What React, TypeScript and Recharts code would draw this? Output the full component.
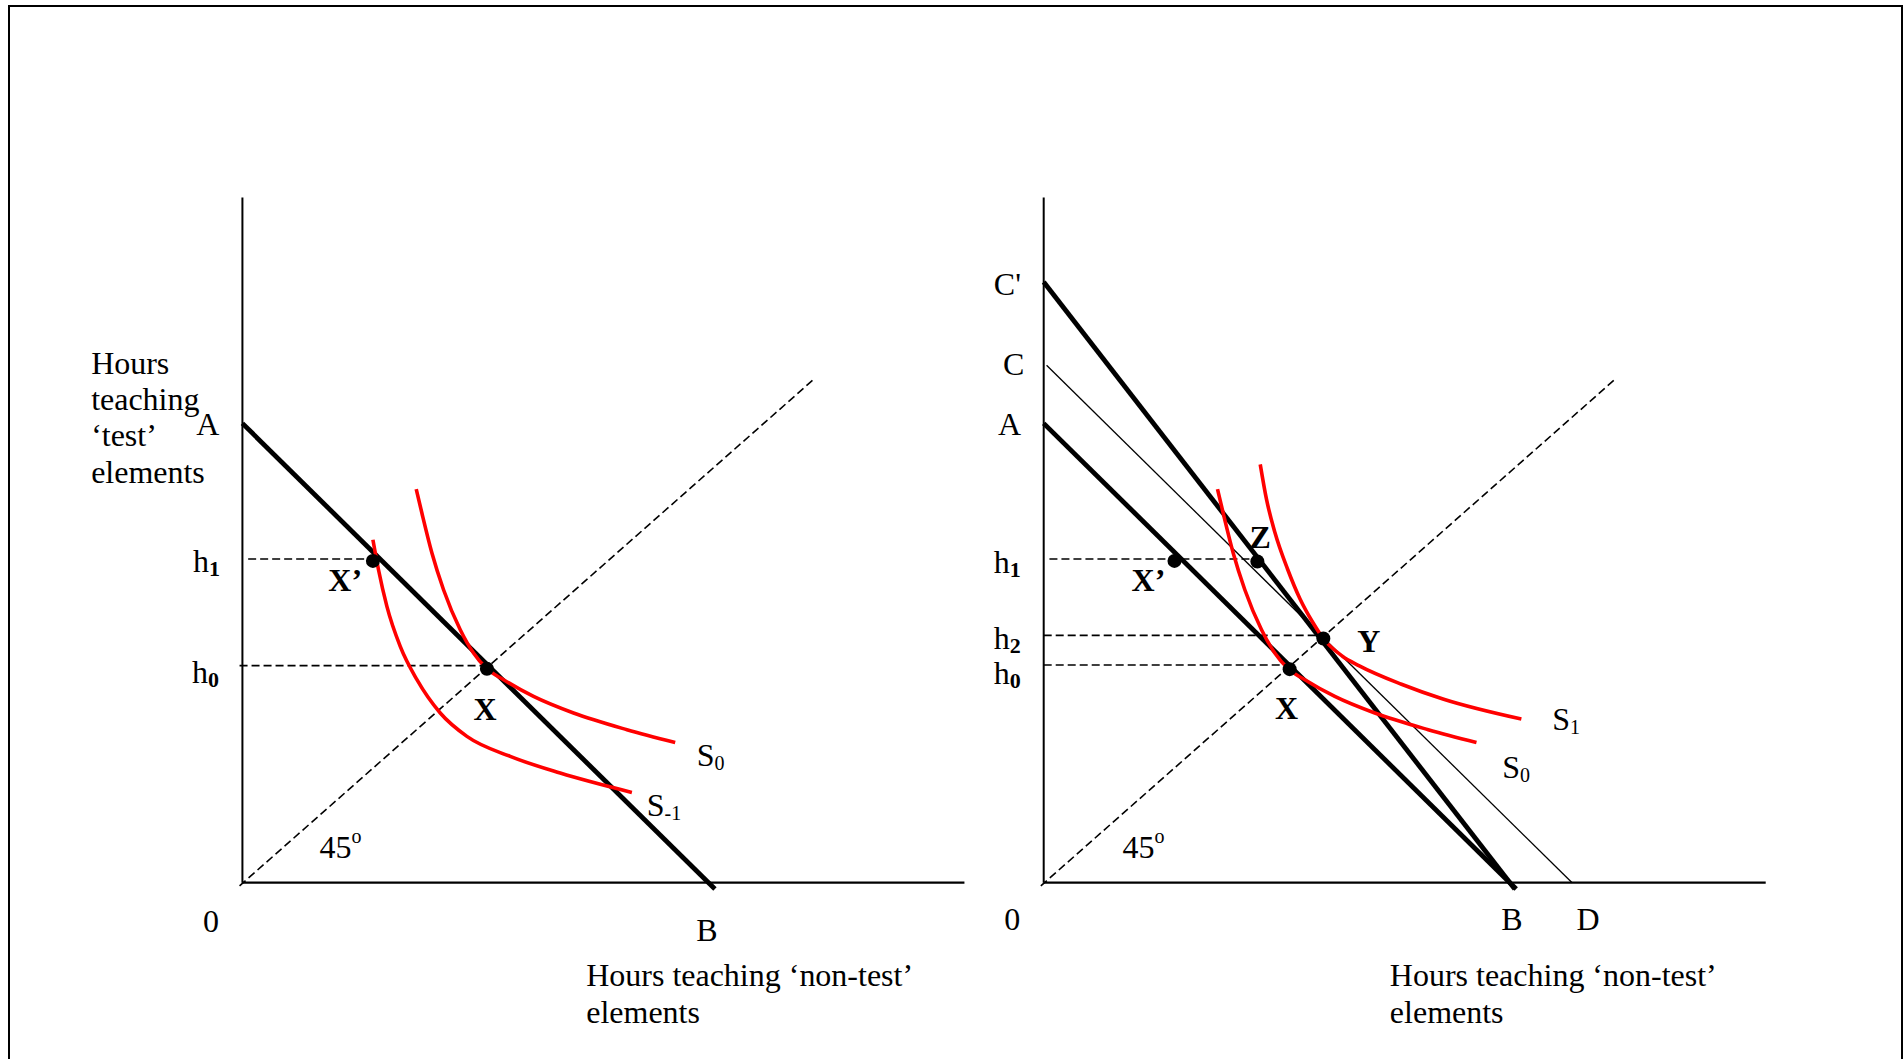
import { ComposedChart, Line, Scatter, XAxis, YAxis } from "recharts";

type Pt = { x: number; y: number };
type Lbl = Pt & {
  text: string;
  sub?: string;
  sup?: string;
  bold?: boolean;
  subBold?: boolean;
  anchor?: "start" | "middle" | "end";
};

// ---- shared geometry (data units: hours) ----
const yAxisLine: Pt[] = [{ x: 0, y: 0 }, { x: 0, y: 108.6 }];
const xAxisLine: Pt[] = [{ x: 0, y: 0 }, { x: 100.7, y: 0 }];
const diagonal: Pt[] = [{ x: -0.4, y: -0.5 }, { x: 79.6, y: 79.7 }];
const budgetAB: Pt[] = [{ x: 0, y: 72.8 }, { x: 65.9, y: -1.0 }];
const budgetCprime: Pt[] = [{ x: 0, y: 95.2 }, { x: 65.7, y: -1.0 }];
const budgetCD: Pt[] = [{ x: 0.4, y: 82.0 }, { x: 73.7, y: 0 }];

const curveS0: Pt[] = [
  { x: 24.24, y: 62.39 }, { x: 25.03, y: 58.59 }, { x: 26.43, y: 52.25 },
  { x: 28.05, y: 46.43 }, { x: 30.38, y: 40.1 }, { x: 32.23, y: 36.4 },
  { x: 34.1, y: 33.9 }, { x: 36.42, y: 32.17 }, { x: 40.6, y: 29.52 },
  { x: 46.18, y: 26.89 }, { x: 53.63, y: 24.25 }, { x: 60.36, y: 22.23 },
];
const curveSm1: Pt[] = [
  { x: 18.2, y: 54.36 }, { x: 18.98, y: 49.6 }, { x: 20.15, y: 43.79 },
  { x: 22.01, y: 37.45 }, { x: 24.34, y: 32.17 }, { x: 27.59, y: 26.89 },
  { x: 31.31, y: 23.19 }, { x: 37.35, y: 20.02 }, { x: 44.32, y: 17.38 },
  { x: 54.32, y: 14.31 },
];
const curveS1: Pt[] = [
  { x: 30.2, y: 66.3 }, { x: 31.07, y: 60.78 }, { x: 32.25, y: 55.5 },
  { x: 34.02, y: 49.68 }, { x: 35.77, y: 44.93 }, { x: 37.54, y: 41.24 },
  { x: 39.0, y: 38.7 }, { x: 41.66, y: 35.9 }, { x: 44.02, y: 34.37 },
  { x: 49.9, y: 31.46 }, { x: 55.79, y: 29.08 }, { x: 66.62, y: 25.94 },
];

// ---- left panel ----
const leftH1: Pt[] = [{ x: 0.8, y: 51.3 }, { x: 18.2, y: 51.3 }];
const leftH0: Pt[] = [{ x: -0.4, y: 34.4 }, { x: 34.1, y: 34.4 }];
const leftPoints: Pt[] = [{ x: 18.2, y: 51.0 }, { x: 34.1, y: 33.9 }];
const leftLabels: Lbl[] = [
  { x: -6.45, y: 71.0, text: "A" },
  { x: -6.88, y: 49.2, text: "h", sub: "1", subBold: true },
  { x: -7.04, y: 31.65, text: "h", sub: "0", subBold: true },
  { x: 11.98, y: 46.2, text: "X’", bold: true },
  { x: 32.23, y: 25.83, text: "X", bold: true },
  { x: 63.35, y: 18.46, text: "S", sub: "0" },
  { x: 56.4, y: 10.63, text: "S", sub: "-1" },
  { x: 10.75, y: 3.91, text: "45", sup: "o" },
  { x: -4.39, y: -7.8, text: "0", anchor: "middle" },
  { x: 63.3, y: -9.3, text: "B" },
  { x: 47.95, y: -16.4, text: "Hours teaching ‘non-test’" },
  { x: 47.95, y: -22.2, text: "elements" },
  { x: -21.1, y: 80.7, text: "Hours" },
  { x: -21.1, y: 74.95, text: "teaching" },
  { x: -21.1, y: 69.2, text: "‘test’" },
  { x: -21.1, y: 63.3, text: "elements" },
];

// ---- right panel ----
const rightH1: Pt[] = [{ x: 0.8, y: 51.3 }, { x: 29.8, y: 51.3 }];
const rightH2: Pt[] = [{ x: 0, y: 39.2 }, { x: 39.0, y: 39.2 }];
const rightH0: Pt[] = [{ x: 0, y: 34.5 }, { x: 34.2, y: 34.5 }];
const rightPoints: Pt[] = [
  { x: 18.24, y: 51.0 }, { x: 29.8, y: 50.9 }, { x: 39.0, y: 38.7 }, { x: 34.3, y: 33.85 },
];
const rightLabels: Lbl[] = [
  { x: -6.95, y: 93.2, text: "C'" },
  { x: -5.69, y: 80.4, text: "C" },
  { x: -6.39, y: 71.0, text: "A" },
  { x: -6.95, y: 49.05, text: "h", sub: "1", subBold: true },
  { x: -6.95, y: 37.1, text: "h", sub: "2", subBold: true },
  { x: -6.95, y: 31.46, text: "h", sub: "0", subBold: true },
  { x: 28.72, y: 53.1, text: "Z", bold: true },
  { x: 12.25, y: 46.26, text: "X’", bold: true },
  { x: 43.72, y: 36.6, text: "Y", bold: true },
  { x: 32.26, y: 25.9, text: "X", bold: true },
  { x: 70.92, y: 24.14, text: "S", sub: "1" },
  { x: 63.95, y: 16.6, text: "S", sub: "0" },
  { x: 10.98, y: 3.91, text: "45", sup: "o" },
  { x: -4.37, y: -7.5, text: "0", anchor: "middle" },
  { x: 63.8, y: -7.5, text: "B" },
  { x: 74.3, y: -7.5, text: "D" },
  { x: 48.28, y: -16.4, text: "Hours teaching ‘non-test’" },
  { x: 48.28, y: -22.2, text: "elements" },
];

const SERIF = "'Liberation Serif', 'Times New Roman', serif";
const PX_X = 7.17;
const PX_Y = 6.31;
const ORIGIN_Y = 883;
const Y_DOMAIN: [number, number] = [-25, 112];

const renderLabel = (props: any) => {
  const { cx, cy, payload } = props;
  const p = payload as Lbl;
  return (
    <text
      x={cx}
      y={cy}
      textAnchor={p.anchor ?? "start"}
      fontFamily={SERIF}
      fontSize={32}
      fontWeight={p.bold ? 700 : 400}
      fill="#000"
    >
      {p.text}
      {p.sub && (
        <tspan fontSize={p.subBold ? 22 : 20} fontWeight={p.subBold ? 700 : 400} dy={4}>
          {p.sub}
        </tspan>
      )}
      {p.sup && (
        <tspan fontSize={20} dy={-15}>
          {p.sup}
        </tspan>
      )}
    </text>
  );
};

const renderDot = (props: any) => <circle cx={props.cx} cy={props.cy} r={7} fill="#000" />;

const seg = (key: string, data: Pt[], stroke: string, width: number, dash?: string, curve = false) => (
  <Line
    key={key}
    data={data}
    dataKey="y"
    type={curve ? "monotone" : "linear"}
    stroke={stroke}
    strokeWidth={width}
    strokeDasharray={dash}
    dot={false}
    activeDot={false}
    legendType="none"
    isAnimationActive={false}
  />
);

type PanelProps = { originX: number; xDomain: [number, number]; children: any };

const Panel = ({ originX, xDomain, children }: PanelProps) => {
  const width = (xDomain[1] - xDomain[0]) * PX_X;
  const height = (Y_DOMAIN[1] - Y_DOMAIN[0]) * PX_Y;
  return (
    <div style={{ position: "absolute", left: originX + xDomain[0] * PX_X, top: ORIGIN_Y - Y_DOMAIN[1] * PX_Y }}>
      <ComposedChart width={width} height={height} margin={{ top: 0, right: 0, bottom: 0, left: 0 }}>
        <XAxis type="number" dataKey="x" domain={xDomain} hide />
        <YAxis type="number" dataKey="y" domain={Y_DOMAIN} hide />
        {children}
      </ComposedChart>
    </div>
  );
};

const DASH = "8 4";

export default function App() {
  return (
    <div style={{ position: "fixed", left: 0, top: 0, width: 1903, height: 1059, overflow: "hidden", background: "#fff" }}>
      <div
        style={{
          position: "absolute",
          left: 8,
          top: 5,
          width: 1895,
          height: 1200,
          border: "2px solid #000",
          boxSizing: "border-box",
        }}
      />
      <Panel originX={242.2} xDomain={[-26, 101.5]}>
        {seg("ya", yAxisLine, "#000", 2)}
        {seg("xa", xAxisLine, "#000", 2.2)}
        {seg("diag", diagonal, "#000", 1.6, DASH)}
        {seg("h1", leftH1, "#000", 1.6, DASH)}
        {seg("h0", leftH0, "#000", 1.6, DASH)}
        {seg("ab", budgetAB, "#000", 4.8)}
        {seg("sm1", curveSm1, "#ff0000", 3.6, undefined, true)}
        {seg("s0", curveS0, "#ff0000", 3.6, undefined, true)}
        <Scatter data={leftPoints} shape={renderDot} isAnimationActive={false} legendType="none" />
        <Scatter data={leftLabels} shape={renderLabel} isAnimationActive={false} legendType="none" />
      </Panel>
      <Panel originX={1043.8} xDomain={[-10, 104]}>
        {seg("ya", yAxisLine, "#000", 2)}
        {seg("xa", xAxisLine, "#000", 2.2)}
        {seg("diag", diagonal, "#000", 1.6, DASH)}
        {seg("h1", rightH1, "#000", 1.6, DASH)}
        {seg("h2", rightH2, "#000", 1.6, DASH)}
        {seg("h0", rightH0, "#000", 1.6, DASH)}
        {seg("cd", budgetCD, "#000", 1.3)}
        {seg("ab", budgetAB, "#000", 4.8)}
        {seg("cp", budgetCprime, "#000", 4.8)}
        {seg("s0", curveS0, "#ff0000", 3.6, undefined, true)}
        {seg("s1", curveS1, "#ff0000", 3.6, undefined, true)}
        <Scatter data={rightPoints} shape={renderDot} isAnimationActive={false} legendType="none" />
        <Scatter data={rightLabels} shape={renderLabel} isAnimationActive={false} legendType="none" />
      </Panel>
    </div>
  );
}
